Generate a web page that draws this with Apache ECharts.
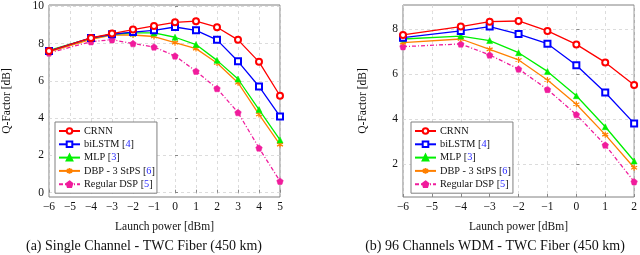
<!DOCTYPE html>
<html>
<head>
<meta charset="utf-8">
<script src="https://cdn.jsdelivr.net/npm/echarts@6/dist/echarts.min.js"></script>
<style>html,body{margin:0;padding:0;background:#fff;}#c{width:640px;height:255px;}</style>
</head>
<body>
<div id="c"></div>
<script>
const seriesNames = ['CRNN', 'biLSTM [4]', 'MLP [3]', 'DBP - 3 StPS [6]', 'Regular DSP [5]'];
const xA = [-6, -4, -3, -2, -1, 0, 1, 2, 3, 4, 5];
const crnnA = [7.6, 8.3, 8.54, 8.75, 8.95, 9.14, 9.2, 8.88, 8.2, 7.02, 5.2];
const bilstmA = [7.6, 8.3, 8.5, 8.62, 8.71, 8.89, 8.71, 8.2, 7.05, 5.7, 4.09];
const mlpA = [7.64, 8.29, 8.5, 8.57, 8.57, 8.34, 7.95, 7.1, 6.1, 4.46, 2.83];
const dbpA = [7.55, 8.23, 8.46, 8.46, 8.38, 8.05, 7.73, 6.96, 5.9, 4.2, 2.58];
const dspA = [7.5, 8.1, 8.21, 8.0, 7.82, 7.34, 6.52, 5.59, 4.3, 2.4, 0.62];

const xB = [-6, -4, -3, -2, -1, 0, 1, 2];
const crnnB = [7.75, 8.12, 8.34, 8.37, 7.93, 7.33, 6.53, 5.53];
const bilstmB = [7.63, 7.93, 8.12, 7.79, 7.36, 6.4, 5.19, 3.82];
const mlpB = [7.57, 7.7, 7.5, 6.96, 6.13, 5.05, 3.67, 2.15];
const dbpB = [7.41, 7.57, 7.11, 6.64, 5.75, 4.67, 3.32, 1.85];
const dspB = [7.23, 7.35, 6.86, 6.24, 5.33, 4.21, 2.86, 1.23];

const yTicksA = [0, 2, 4, 6, 8, 10];
const yTicksB = [2, 4, 6, 8];
const xAxisTitle = 'Launch power [dBm]';
const yAxisTitle = 'Q-Factor [dB]';
const captionA = '(a) Single Channel - TWC Fiber (450 km)';
const captionB = '(b) 96 Channels WDM - TWC Fiber (450 km)';

const FONT = 'Liberation Serif';
const colors = ['#ff0000', '#0000ff', '#00f000', '#ff8000', '#f01c9c'];
const asterisk = 'path://M0,-10L0,10M-8.66,-5L8.66,5M-8.66,5L8.66,-5';
const pentagon = 'path://M0,-10L9.51,-3.09L5.88,8.09L-5.88,8.09L-9.51,-3.09Z';
const symbols = ['emptyCircle', 'emptyRect', 'triangle', asterisk, pentagon];
const sizes = [6, 6, 6, 6, 6.5];

function pair(xs, ys) { return xs.map((x, i) => [x, ys[i]]); }
const fmtNum = v => (v < 0 ? '\u2212' + (-v) : String(v));

function makeSeries(idx, xs, list) {
  return list.map((ys, k) => ({
    type: 'line',
    name: seriesNames[k],
    xAxisIndex: idx, yAxisIndex: idx,
    data: pair(xs, ys),
    symbol: symbols[k],
    symbolSize: sizes[k],
    showSymbol: true,
    color: colors[k],
    lineStyle: { width: 1.3, color: colors[k], type: k === 4 ? [4, 2, 1, 2] : 'solid' },
    itemStyle: (k <= 1 || k === 3) ? { color: colors[k], borderColor: colors[k], borderWidth: 1.2 } :
               { color: colors[k], borderColor: colors[k], borderWidth: 0.5 },
    z: 10 - k,
    animation: false
  }));
}

function xAxisOf(idx, min, max) {
  return {
    type: 'value', gridIndex: idx, min: min, max: max, interval: 1,
    name: xAxisTitle, nameLocation: 'middle', nameGap: 24,
    nameTextStyle: { fontFamily: FONT, fontSize: 11.5, color: '#111' },
    axisLine: { show: false },
    axisTick: { show: true, inside: true, length: 3, lineStyle: { color: '#888' } },
    axisLabel: { fontFamily: FONT, fontSize: 11.5, color: '#111', margin: 4, formatter: fmtNum },
    splitLine: { show: true, lineStyle: { color: '#d4d4d4', type: [3, 3], width: 0.8 } }
  };
}
function yAxisOf(idx, min, max, ticks, gap) {
  return {
    type: 'value', gridIndex: idx, min: min, max: max,
    name: yAxisTitle, nameLocation: 'middle', nameGap: gap, nameRotate: 90,
    nameTextStyle: { fontFamily: FONT, fontSize: 11.5, color: '#111' },
    axisLine: { show: false },
    axisTick: { show: true, inside: true, length: 3, lineStyle: { color: '#888' }, customValues: ticks },
    axisLabel: { fontFamily: FONT, fontSize: 11.5, color: '#111', margin: 5, customValues: ticks, formatter: fmtNum },
    splitLine: { show: true, lineStyle: { color: '#d4d4d4', type: [3, 3], width: 0.8 } }
  };
}
function legendOf(left, top) {
  return {
    left: left, top: top, orient: 'vertical',
    data: seriesNames,
    itemWidth: 21, itemHeight: 7, itemGap: 3.3,
    padding: [4, 2, 4, 3],
    backgroundColor: '#fff', borderColor: '#808080', borderWidth: 1,
    textStyle: { fontFamily: FONT, fontSize: 10.3, color: '#111', padding: [0, 0, 0, -1], rich: { b: { fontFamily: FONT, fontSize: 10.3, color: '#2a2aff' } } },
    formatter: n => n.replace(/\[(\d)\]/, '[{b|$1}]'),
    selectedMode: false
  };
}

const chart = echarts.init(document.getElementById('c'), null, { renderer: 'canvas' });
chart.setOption({
  animation: false,
  backgroundColor: '#fff',
  grid: [
    { left: 48, right: 360, top: 5, bottom: 58, show: true, borderColor: '#808080', borderWidth: 1, backgroundColor: 'transparent' },
    { left: 403, right: 5, top: 5, bottom: 58, show: true, borderColor: '#808080', borderWidth: 1, backgroundColor: 'transparent' }
  ],
  xAxis: [xAxisOf(0, -6, 5), xAxisOf(1, -6, 2)],
  yAxis: [yAxisOf(0, -0.23, 10.07, yTicksA, 36), yAxisOf(1, 0.55, 9.08, yTicksB, 34)],
  legend: [legendOf(55, 122), legendOf(411, 122)],
  series: makeSeries(0, xA, [crnnA, bilstmA, mlpA, dbpA, dspA]).concat(makeSeries(1, xB, [crnnB, bilstmB, mlpB, dbpB, dspB])),
  graphic: [
    { type: 'text', x: 144, y: 246, style: { text: captionA, fontFamily: FONT, fontSize: 14, fill: '#111', textAlign: 'center', textVerticalAlign: 'middle' } },
    { type: 'text', x: 495, y: 246, style: { text: captionB, fontFamily: FONT, fontSize: 14, fill: '#111', textAlign: 'center', textVerticalAlign: 'middle' } }
  ]
});
</script>
</body>
</html>
